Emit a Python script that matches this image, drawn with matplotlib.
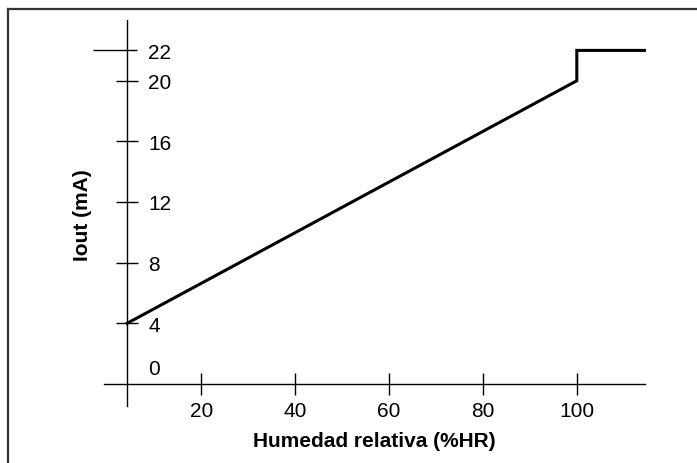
import matplotlib.pyplot as plt

plt.rcParams['font.family'] = ['Liberation Sans', 'DejaVu Sans']

# transfer curve: relative humidity (%HR) -> output current (mA)
hr = [4.2, 100, 100, 114.4]
iout = [4, 20, 22, 22]

x_ticks = [20, 40, 60, 80, 100]
y_ticks = [4, 8, 12, 16, 20, 22]
y_tick_labels = ['4', '8', '12', '16', '20', '22']

fig = plt.figure(figsize=(6.97, 4.64), dpi=100)
ax = fig.add_axes([0, 0, 1, 1])
ax.set_xlim(-22.86, 125.6)
ax.set_ylim(-5.21, 25.39)

for s in ['top', 'right']:
    ax.spines[s].set_visible(False)
ax.spines['left'].set_position(('data', 4.2))
ax.spines['bottom'].set_position(('data', 0))
ax.spines['left'].set_bounds(-1.45, 24.0)
ax.spines['bottom'].set_bounds(-0.7, 114.6)
for s in ['left', 'bottom']:
    ax.spines[s].set_linewidth(1.0)
    ax.spines[s].set_color('black')

ax.set_xticks(x_ticks)
ax.set_yticks(y_ticks[:-1])
ax.set_xticklabels([])
ax.set_yticklabels([])
ax.tick_params(direction='inout', length=16, width=1.0, color='black')
# longer tick at 22
ax.hlines(22, -3.05, 6.33, color='black', lw=1.0)

fs = 15
for t in x_ticks:
    ax.text(t, -1.75, str(t), ha='center', va='center', fontsize=fs)
for t, lab in zip(y_ticks, y_tick_labels):
    ax.text(8.7, t - 0.12, lab, ha='left', va='center', fontsize=fs)
ax.text(8.7, 1.0, '0', ha='left', va='center', fontsize=fs)

ax.plot(hr, iout, color='black', lw=2.2, solid_joinstyle='miter')

ax.text(56.8, -3.7, 'Humedad relativa (%HR)', ha='center', va='center',
        fontsize=fs, fontweight='bold')
ax.text(-5.3, 11.2, 'Iout (mA)', ha='center', va='center', rotation=90,
        fontsize=fs, fontweight='bold')

# frame (only top and left edges visible)
fig.add_artist(plt.Line2D([8 / 697, 1], [1 - 9.5 / 464] * 2, color='#333333', lw=1.6))
fig.add_artist(plt.Line2D([8.3 / 697] * 2, [0, 1 - 9.5 / 464], color='#333333', lw=1.6))

fig.savefig('out.png', dpi=100)
